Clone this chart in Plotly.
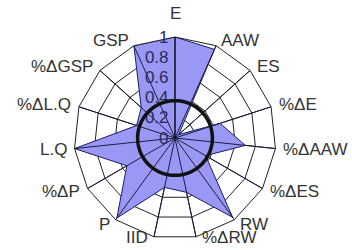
import math
import plotly.graph_objects as go

categories = ["E", "AAW", "ES", "%ΔE", "%ΔAAW", "%ΔES", "RW", "%ΔRW",
              "IID", "P", "%ΔP", "L.Q", "%ΔL.Q", "%ΔGSP", "GSP"]
values = [1.0, 0.96, 0.05, 0.47, 0.70, 0.35, 0.97, 0.55,
          0.50, 0.98, 0.55, 1.0, 0.40, 0.45, 1.0]
reference_level = 0.37
radial_ticks = [0, 0.2, 0.4, 0.6, 0.8, 1]
radial_labels = ["0", "0.2", "0.4", "0.6", "0.8", "1"]

FONT = "Liberation Sans, Arial, sans-serif"
W, H = 352, 250
CX, CY, R = 175, 138, 101  # polar centre / radius in pixels
dom = dict(x=[(CX - R) / W, (CX + R) / W], y=[(H - CY - R) / H, (H - CY + R) / H])

fig = go.Figure()
fig.add_trace(go.Scatterpolar(
    r=values + [values[0]], theta=categories + [categories[0]],
    mode="lines", fill="toself", fillcolor="#9999F5",
    line=dict(color="#1a1a66", width=1), subplot="polar", hoverinfo="skip"))

for c in categories:
    fig.add_trace(go.Scatterpolar(
        r=[0, 1], theta=[c, c], mode="lines",
        line=dict(color="#1c1c40", width=1), subplot="polar", hoverinfo="skip"))

ang = list(range(0, 361, 2))
fig.add_trace(go.Scatterpolar(
    r=[reference_level] * len(ang), theta=ang, mode="lines",
    line=dict(color="#111111", width=3.5), subplot="polar2", hoverinfo="skip"))

# category labels placed just outside each polygon vertex
annotations = []
n = len(categories)
for i, c in enumerate(categories):
    a = math.radians(360.0 * i / n)
    s, co = math.sin(a), math.cos(a)
    if abs(s) < 0.1:            # top label: above the vertex
        px, py = CX, CY - (R + 12) * co
    elif co < -0.95:            # bottom labels: beside the vertex
        px = CX + R * s + (4 if s > 0 else -4)
        py = CY - R * co + 1
    else:
        px = CX + (R + 6) * s
        py = CY - (R + 6) * co
    xanchor = "center" if abs(s) < 0.1 else ("left" if s > 0 else "right")
    yanchor = "bottom" if co > 0.95 else "middle"
    annotations.append(dict(
        x=px / W, y=1 - py / H, xref="paper", yref="paper", text=c,
        showarrow=False, xanchor=xanchor, yanchor=yanchor,
        font=dict(size=17, color="#333333", family=FONT)))

fig.update_layout(
    width=W, height=H, margin=dict(l=0, r=0, t=0, b=0),
    paper_bgcolor="white", showlegend=False,
    font=dict(family=FONT, size=17, color="#333333"),
    annotations=annotations,
    polar=dict(
        domain=dom, gridshape="linear", bgcolor="white",
        radialaxis=dict(range=[0, 1], tickvals=radial_ticks, ticktext=radial_labels,
                        angle=90, tickangle=90, side="counterclockwise",
                        showline=True, linecolor="black", linewidth=1,
                        gridcolor="#222222", gridwidth=1, ticks="",
                        tickfont=dict(size=17, color="#2a2a5a", family=FONT)),
        angularaxis=dict(rotation=90, direction="clockwise", showline=True,
                         linecolor="#222222", linewidth=1, gridcolor="#222222",
                         ticks="", showticklabels=False),
    ),
    polar2=dict(
        domain=dom, bgcolor="rgba(0,0,0,0)",
        radialaxis=dict(range=[0, 1], visible=False),
        angularaxis=dict(visible=False, rotation=90, direction="clockwise"),
    ),
)

fig.write_html("out.html", config={"displayModeBar": False},
               post_script="document.body.style.margin='0';")
